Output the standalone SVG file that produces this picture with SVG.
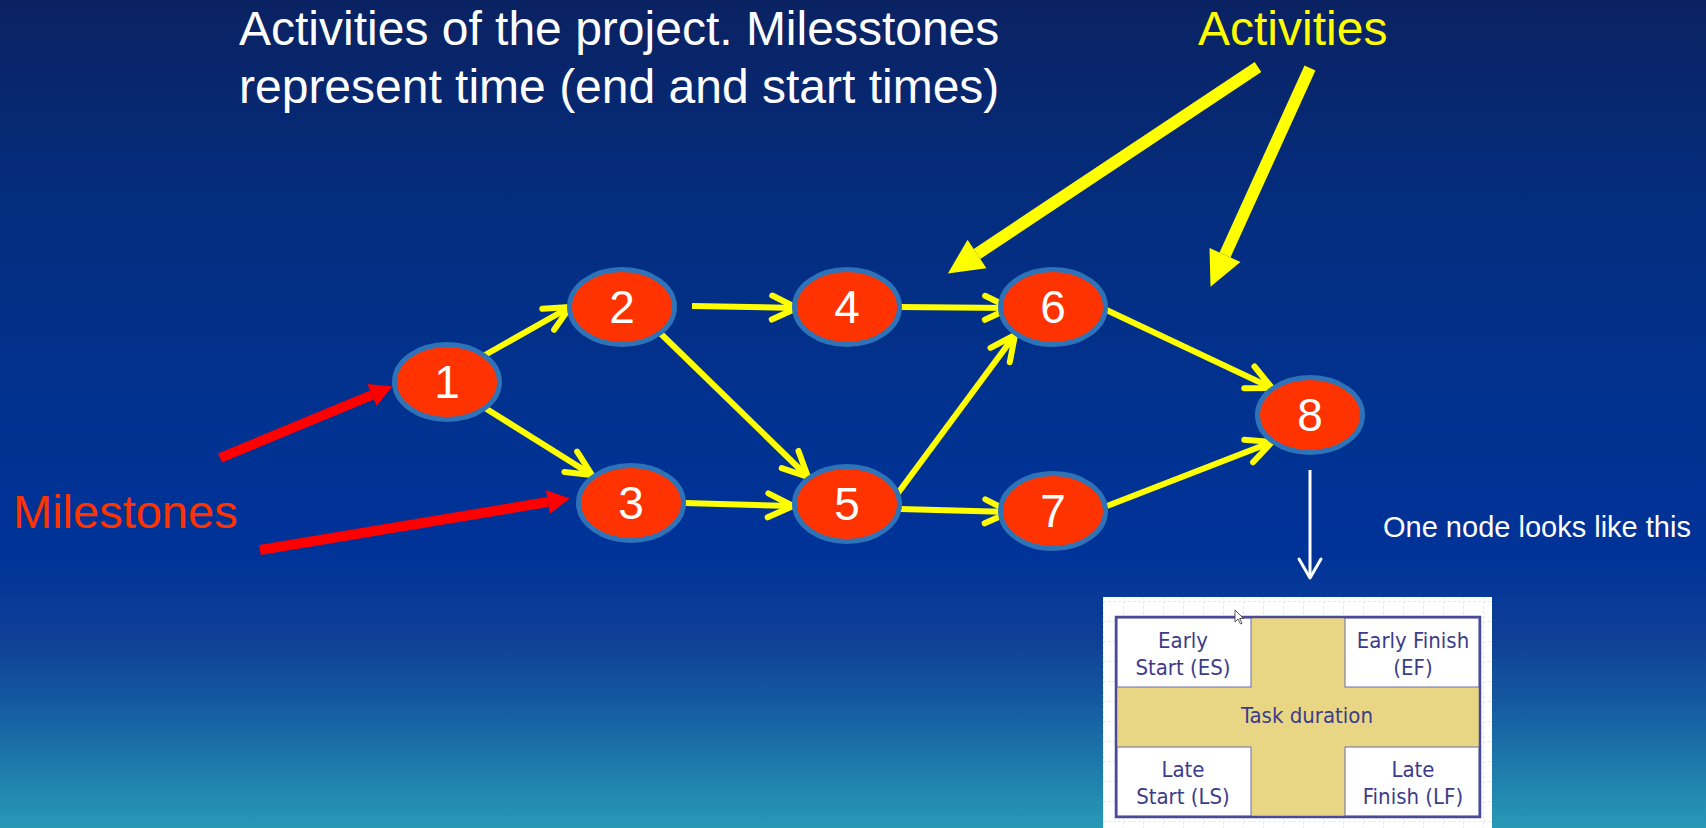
<svg xmlns="http://www.w3.org/2000/svg" width="1706" height="828" viewBox="0 0 1706 828">
  <defs>
    <linearGradient id="bg" x1="0" y1="0" x2="0" y2="1">
      <stop offset="0" stop-color="#0a2262"/>
      <stop offset="0.25" stop-color="#042d7e"/>
      <stop offset="0.5" stop-color="#013290"/>
      <stop offset="0.67" stop-color="#003399"/>
      <stop offset="0.77" stop-color="#0f3f96"/>
      <stop offset="0.84" stop-color="#1456a0"/>
      <stop offset="0.92" stop-color="#1d78aa"/>
      <stop offset="1" stop-color="#2899b6"/>
    </linearGradient>
    <pattern id="grid" width="20" height="20" patternUnits="userSpaceOnUse" x="3" y="1">
      <path d="M0,0.5 H20 M0.5,0 V20" fill="none" stroke="#e3e8f1" stroke-width="1" stroke-dasharray="3,2"/>
    </pattern>
    <marker id="chev" markerUnits="userSpaceOnUse" markerWidth="60" markerHeight="60" viewBox="-30 -30 60 60" refX="0" refY="0" orient="auto" overflow="visible">
      <path d="M-25,-12 L0,0 L-25,12" fill="none" stroke="#ffff00" stroke-width="6" stroke-linecap="round" stroke-linejoin="round"/>
    </marker>
    <marker id="chevW" markerUnits="userSpaceOnUse" markerWidth="40" markerHeight="40" viewBox="-20 -20 40 40" refX="0" refY="0" orient="auto" overflow="visible">
      <path d="M-19,-11 L0,0 L-19,11" fill="none" stroke="#ffffff" stroke-width="3" stroke-linecap="round" stroke-linejoin="round"/>
    </marker>
    <marker id="bigY" markerUnits="userSpaceOnUse" markerWidth="40" markerHeight="40" viewBox="0 -20 40 40" refX="0" refY="0" orient="auto" overflow="visible">
      <path d="M0,-17 L35,0 L0,17 Z" fill="#ffff00"/>
    </marker>
    <marker id="bigR" markerUnits="userSpaceOnUse" markerWidth="30" markerHeight="30" viewBox="0 -15 30 30" refX="0" refY="0" orient="auto" overflow="visible">
      <path d="M0,-12 L22,0 L0,12 Z" fill="#ff0000"/>
    </marker>
    <style>
      .node ellipse { fill: #ff3300; stroke: #2e72b8; stroke-width: 5; }
      .node text { font-family: "Liberation Sans", Arial, sans-serif; font-size: 46px; fill: #ffffff; text-anchor: middle; }
      .act { stroke: #ffff00; stroke-width: 6; fill: none; marker-end: url(#chev); }
      .big { stroke: #ffff00; stroke-width: 12; fill: none; marker-end: url(#bigY); }
      .red { stroke: #ff0000; stroke-width: 10; fill: none; marker-end: url(#bigR); }
      .lbl { font-family: "Liberation Sans", Arial, sans-serif; }
      .cell { fill: #ffffff; stroke: #6a6aa8; stroke-width: 1; }
      .ct { font-family: "DejaVu Sans Condensed", "DejaVu Sans", sans-serif; font-size: 22px; fill: #3c3c8a; text-anchor: middle; }
    </style>
  </defs>

  <rect x="0" y="0" width="1706" height="828" fill="url(#bg)"/>

  <!-- Labels -->
  <g id="title" class="lbl" fill="#ffffff" font-size="48">
    <text x="239" y="45">Activities of the project. Milesstones</text>
    <text x="239" y="103">represent time (end and start times)</text>
  </g>
  <text id="activities-label" class="lbl" x="1198" y="45" font-size="48" fill="#ffff00">Activities</text>
  <text id="milestones-label" class="lbl" x="13" y="528" font-size="47" fill="#ff3300">Milestones</text>
  <text id="note-label" class="lbl" x="1383" y="537" font-size="29" fill="#ffffff">One node looks like this</text>

  <!-- Connectors -->
  <g id="connectors">
    <line class="act" x1="485" y1="355" x2="570" y2="307"/>
    <line class="act" x1="485" y1="408" x2="592" y2="475"/>
    <line class="act" x1="692" y1="306" x2="797" y2="308"/>
    <line class="act" x1="658" y1="331" x2="808" y2="477"/>
    <line class="act" x1="685" y1="503" x2="793" y2="506"/>
    <line class="act" x1="900" y1="307" x2="1010" y2="308"/>
    <line class="act" x1="898" y1="493" x2="1015" y2="335"/>
    <line class="act" x1="900" y1="509" x2="1010" y2="512"/>
    <line class="act" x1="1098" y1="306" x2="1272" y2="388"/>
    <line class="act" x1="1107" y1="506" x2="1272" y2="442"/>
    <line class="big" x1="1258" y1="67" x2="977" y2="254"/>
    <line class="big" x1="1310" y1="68" x2="1225" y2="255"/>
    <line class="red" x1="220" y1="458" x2="372" y2="395"/>
    <line class="red" x1="260" y1="550" x2="548" y2="502"/>
    <line x1="1310" y1="470" x2="1310" y2="578" stroke="#ffffff" stroke-width="3" marker-end="url(#chevW)"/>
  </g>

  <!-- Nodes -->
  <g id="node-1" class="node"><ellipse cx="447" cy="382" rx="52.5" ry="37.5"/><text x="447" y="398">1</text></g>
  <g id="node-2" class="node"><ellipse cx="622" cy="307" rx="52.5" ry="37.5"/><text x="622" y="323">2</text></g>
  <g id="node-3" class="node"><ellipse cx="631" cy="503" rx="52.5" ry="37.5"/><text x="631" y="519">3</text></g>
  <g id="node-4" class="node"><ellipse cx="847" cy="307" rx="52.5" ry="37.5"/><text x="847" y="323">4</text></g>
  <g id="node-5" class="node"><ellipse cx="847" cy="504" rx="52.5" ry="37.5"/><text x="847" y="520">5</text></g>
  <g id="node-6" class="node"><ellipse cx="1053" cy="307" rx="52.5" ry="37.5"/><text x="1053" y="323">6</text></g>
  <g id="node-7" class="node"><ellipse cx="1053" cy="511" rx="52.5" ry="37.5"/><text x="1053" y="527">7</text></g>
  <g id="node-8" class="node"><ellipse cx="1310" cy="415" rx="52.5" ry="37.5"/><text x="1310" y="431">8</text></g>

  <!-- Node legend picture -->
  <g id="node-legend">
    <rect x="1103" y="597" width="389" height="231" fill="#ffffff"/>
    <rect x="1103" y="597" width="389" height="231" fill="url(#grid)"/>
    <rect x="1116" y="617" width="364" height="200" fill="#e9d685"/>
    <rect class="cell" x="1117" y="618" width="134" height="69"/>
    <rect class="cell" x="1345" y="618" width="134" height="69"/>
    <rect class="cell" x="1117" y="747" width="134" height="69"/>
    <rect class="cell" x="1345" y="747" width="134" height="69"/>
    <rect x="1116" y="617" width="364" height="200" fill="none" stroke="#4a4a96" stroke-width="2.5"/>
    <text class="ct" x="1183" y="648">Early</text>
    <text class="ct" x="1183" y="675">Start (ES)</text>
    <text class="ct" x="1413" y="648">Early Finish</text>
    <text class="ct" x="1413" y="675">(EF)</text>
    <text class="ct" x="1307" y="723">Task duration</text>
    <text class="ct" x="1183" y="777">Late</text>
    <text class="ct" x="1183" y="804">Start (LS)</text>
    <text class="ct" x="1413" y="777">Late</text>
    <text class="ct" x="1413" y="804">Finish (LF)</text>
    <path d="M1235,610 L1235,622 L1238,619 L1240.5,624 L1242,623.3 L1239.7,618.5 L1243.5,618.5 Z" fill="#ffffff" stroke="#333333" stroke-width="0.8"/>
  </g>
</svg>
